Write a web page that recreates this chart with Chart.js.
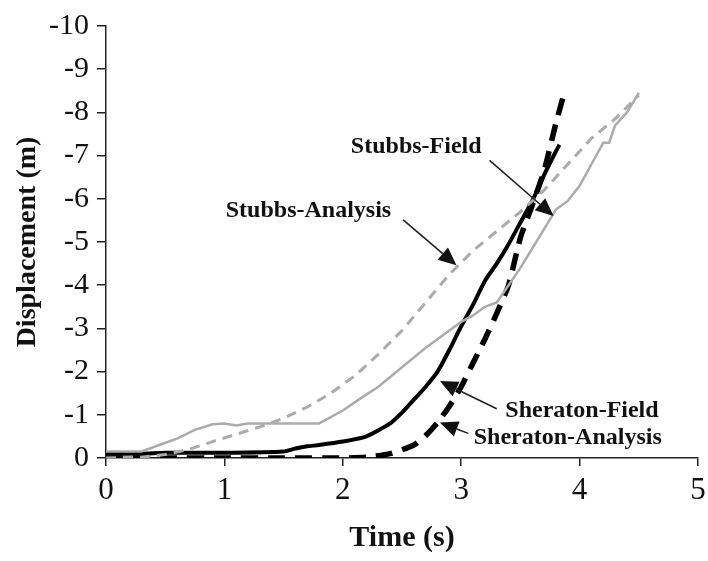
<!DOCTYPE html>
<html>
<head>
<meta charset="utf-8">
<script src="https://cdn.jsdelivr.net/npm/chart.js@4.4.1/dist/chart.umd.min.js"></script>
<style>
  html, body { margin: 0; padding: 0; background: #ffffff; }
  #wrap { width: 708px; height: 561px; position: relative; }
</style>
</head>
<body>
<div id="wrap"><canvas id="c" width="708" height="561"></canvas></div>
<script>
// ---- Data (time in s, displacement in m) ----
const stubbsFieldTime = [0, 0.3, 0.45, 0.6, 0.75, 0.9, 1.0, 1.1, 1.2, 1.4, 1.6, 1.8, 2.0, 2.15, 2.3, 2.5, 2.7, 2.9, 3.0, 3.1, 3.2, 3.3, 3.4, 3.5, 3.6, 3.7, 3.8, 3.9, 4.0, 4.1, 4.2, 4.25, 4.3, 4.4, 4.5];
const stubbsFieldDisp = [-0.15, -0.15, -0.3, -0.45, -0.65, -0.78, -0.8, -0.75, -0.8, -0.8, -0.8, -0.8, -1.1, -1.38, -1.65, -2.1, -2.55, -2.95, -3.15, -3.3, -3.5, -3.6, -4.0, -4.4, -4.85, -5.3, -5.75, -5.95, -6.3, -6.8, -7.3, -7.3, -7.7, -8.0, -8.45];

const stubbsAnalysisTime = [0, 0.3, 0.5, 0.7, 0.9, 1.1, 1.3, 1.5, 1.7, 1.9, 2.1, 2.3, 2.5, 2.7, 2.9, 3.1, 3.3, 3.5, 3.7, 3.9, 4.1, 4.3, 4.5];
const stubbsAnalysisDisp = [0, -0.02, -0.08, -0.2, -0.38, -0.55, -0.72, -0.92, -1.18, -1.5, -1.9, -2.4, -2.95, -3.6, -4.25, -4.8, -5.25, -5.7, -6.2, -6.8, -7.4, -7.85, -8.4];

const sheratonFieldTime = [0, 0.3, 0.5, 1.0, 1.5, 1.6, 1.7, 1.8, 2.0, 2.2, 2.4, 2.5, 2.6, 2.7, 2.8, 2.9, 3.0, 3.1, 3.2, 3.3, 3.4, 3.5, 3.6, 3.7, 3.8, 3.83];
const sheratonFieldDisp = [-0.1, -0.1, -0.12, -0.12, -0.15, -0.22, -0.27, -0.3, -0.38, -0.5, -0.8, -1.05, -1.35, -1.65, -2.0, -2.5, -3.05, -3.55, -4.1, -4.5, -4.95, -5.45, -5.95, -6.55, -7.1, -7.25];

const sheratonAnalysisTime = [0, 0.5, 1.0, 1.5, 2.0, 2.2, 2.4, 2.6, 2.7, 2.8, 2.9, 3.0, 3.1, 3.2, 3.3, 3.4, 3.5, 3.6, 3.7, 3.8, 3.86];
const sheratonAnalysisDisp = [0, 0, 0, 0, 0, -0.02, -0.1, -0.3, -0.52, -0.82, -1.2, -1.65, -2.2, -2.75, -3.35, -4.0, -5.1, -5.85, -6.65, -7.75, -8.35];

const xTicks = [0, 1, 2, 3, 4, 5];
const yTicks = [0, -1, -2, -3, -4, -5, -6, -7, -8, -9, -10];

// Callout labels and arrows (in data coordinates)
const labelTexts = ['Stubbs-Field', 'Stubbs-Analysis', 'Sheraton-Field', 'Sheraton-Analysis'];
const labelTime = [2.62, 1.71, 4.02, 3.90];
const labelDisp = [-7.2, -5.72, -1.1, -0.46];
const arrowFromTime = [3.24, 2.51, 3.30, 3.06];
const arrowFromDisp = [-6.89, -5.51, -1.14, -0.57];
const arrowToTime = [3.78, 2.96, 2.82, 2.82];
const arrowToDisp = [-5.6, -4.46, -1.78, -0.82];

const SERIF = '"Liberation Serif", "Times New Roman", "DejaVu Serif", serif';

function pts(t, d) { return t.map((v, i) => ({ x: v, y: d[i] })); }

const calloutPlugin = {
  id: 'callouts',
  afterDatasetsDraw(chart) {
    const ctx = chart.ctx;
    const xs = chart.scales.x, ys = chart.scales.y;
    ctx.save();
    for (let i = 0; i < labelTexts.length; i++) {
      const x1 = xs.getPixelForValue(arrowFromTime[i]);
      const y1 = ys.getPixelForValue(arrowFromDisp[i]);
      const x2 = xs.getPixelForValue(arrowToTime[i]);
      const y2 = ys.getPixelForValue(arrowToDisp[i]);
      const ang = Math.atan2(y2 - y1, x2 - x1);
      const hl = 18, hw = 8;
      const bx = x2 - hl * Math.cos(ang), by = y2 - hl * Math.sin(ang);
      ctx.strokeStyle = '#222';
      ctx.lineWidth = 1.6;
      ctx.beginPath();
      ctx.moveTo(x1, y1);
      ctx.lineTo(bx, by);
      ctx.stroke();
      ctx.fillStyle = '#111';
      ctx.beginPath();
      ctx.moveTo(x2, y2);
      ctx.lineTo(bx + hw * Math.sin(ang), by - hw * Math.cos(ang));
      ctx.lineTo(bx - hw * Math.sin(ang), by + hw * Math.cos(ang));
      ctx.closePath();
      ctx.fill();

      ctx.font = 'bold 24px ' + SERIF;
      ctx.fillStyle = '#111';
      ctx.textAlign = 'center';
      ctx.textBaseline = 'middle';
      ctx.fillText(labelTexts[i], xs.getPixelForValue(labelTime[i]), ys.getPixelForValue(labelDisp[i]));
    }
    ctx.restore();
  }
};

new Chart(document.getElementById('c'), {
  type: 'line',
  data: {
    datasets: [
      { label: 'Stubbs-Field', data: pts(stubbsFieldTime, stubbsFieldDisp), borderColor: '#ababab', borderWidth: 2.5, pointRadius: 0, tension: 0, fill: false },
      { label: 'Stubbs-Analysis', data: pts(stubbsAnalysisTime, stubbsAnalysisDisp), borderColor: '#ababab', borderWidth: 3, borderDash: [10, 7], pointRadius: 0, tension: 0, fill: false },
      { label: 'Sheraton-Field', data: pts(sheratonFieldTime, sheratonFieldDisp), borderColor: '#000000', borderWidth: 4, pointRadius: 0, tension: 0.2, fill: false },
      { label: 'Sheraton-Analysis', data: pts(sheratonAnalysisTime, sheratonAnalysisDisp), borderColor: '#000000', borderWidth: 5.5, borderDash: [17, 10], pointRadius: 0, tension: 0.2, fill: false }
    ]
  },
  options: {
    responsive: false,
    animation: false,
    devicePixelRatio: 1,
    layout: { padding: { top: 21, right: 10, left: 0, bottom: 0 } },
    plugins: { legend: { display: false }, tooltip: { enabled: false } },
    scales: {
      x: {
        type: 'linear', min: 0, max: 5,
        afterBuildTicks: (s) => { s.ticks = xTicks.map(v => ({ value: v })); },
        afterFit: (s) => { s.height = 103; s.paddingRight = 0; s.paddingLeft = 0; },
        grid: { display: true, drawOnChartArea: false, drawTicks: true, tickLength: 8, color: '#222', lineWidth: 1.5 },
        border: { display: true, color: '#222', width: 1.5 },
        ticks: { color: '#111', font: { family: SERIF, size: 31 }, padding: 6, maxRotation: 0 },
        title: { display: true, text: 'Time (s)', color: '#111', font: { family: SERIF, size: 30, weight: 'bold' }, padding: { top: 4, bottom: 5 } }
      },
      y: {
        type: 'linear', min: -10, max: 0, reverse: true,
        afterBuildTicks: (s) => { s.ticks = yTicks.map(v => ({ value: v })); },
        afterFit: (s) => { s.width = 106; },
        grid: { display: true, drawOnChartArea: false, drawTicks: true, tickLength: 9, color: '#222', lineWidth: 1.5 },
        border: { display: true, color: '#222', width: 1.5 },
        ticks: { color: '#111', font: { family: SERIF, size: 30 }, padding: 8 },
        title: { display: true, text: 'Displacement (m)', color: '#111', font: { family: SERIF, size: 28, weight: 'bold' }, padding: { top: 11, bottom: 0 } }
      }
    }
  },
  plugins: [calloutPlugin]
});
</script>
</body>
</html>
